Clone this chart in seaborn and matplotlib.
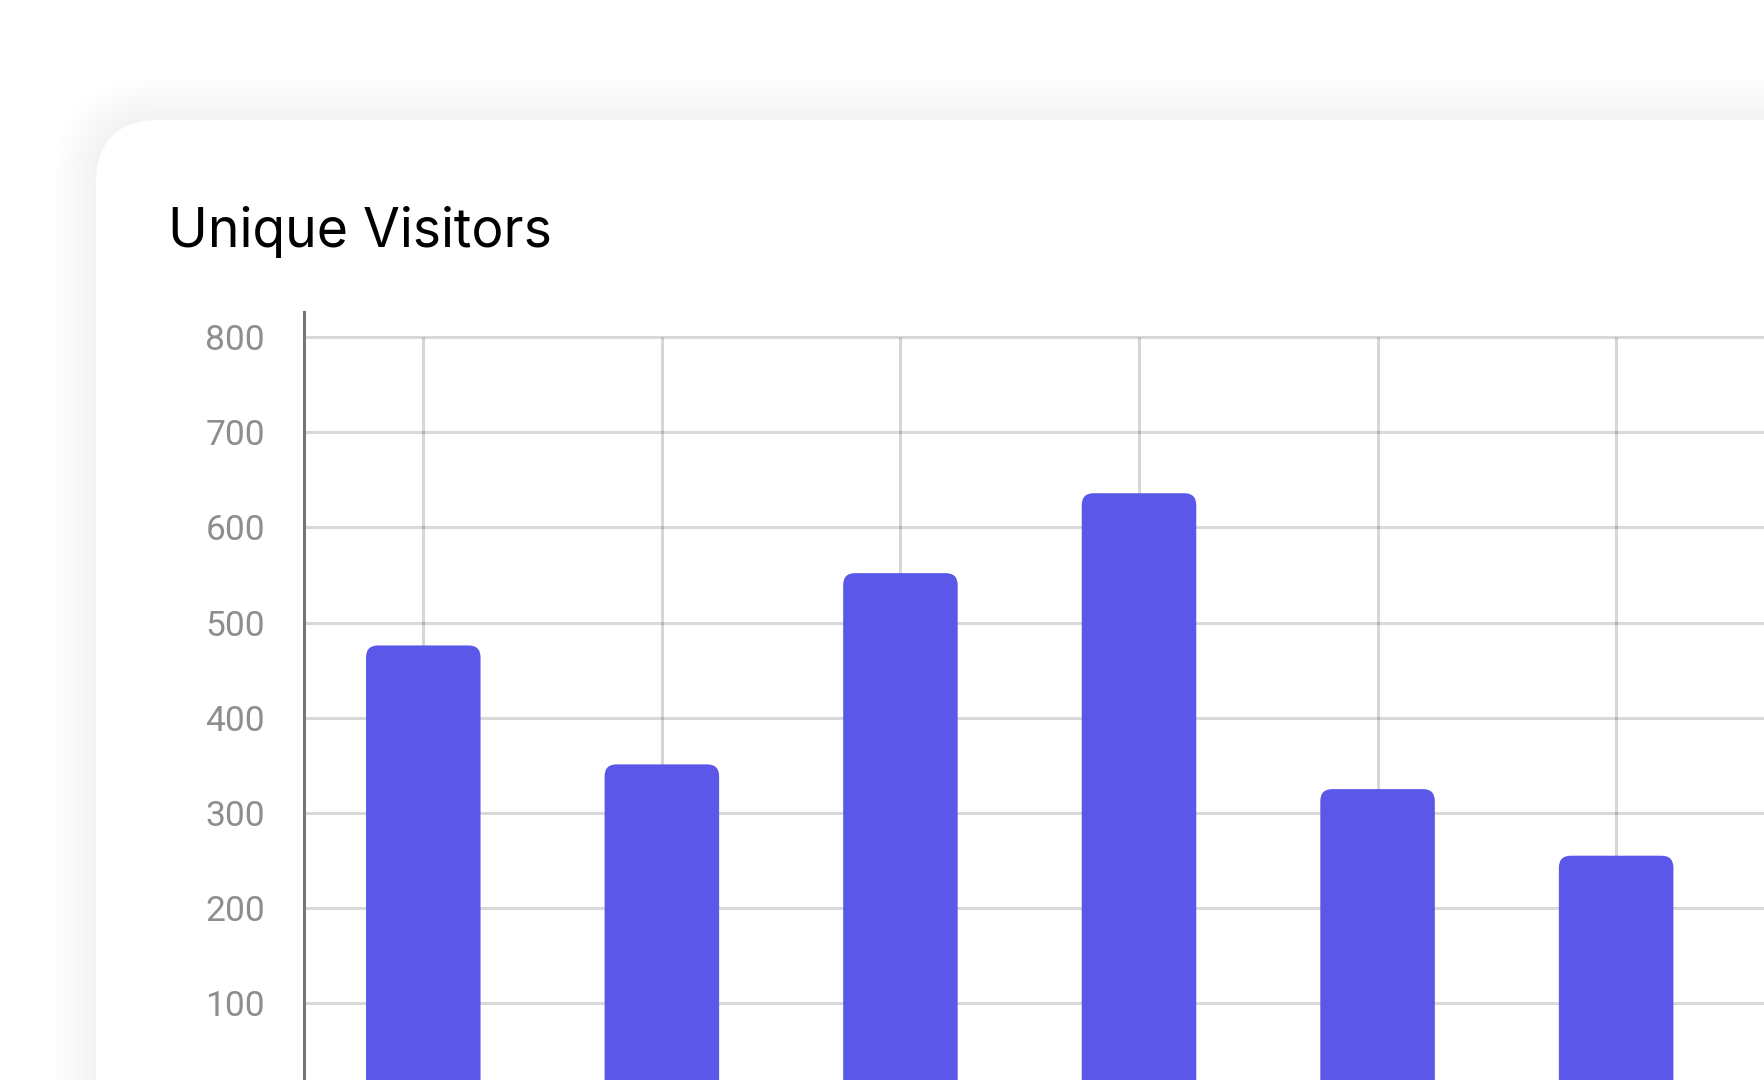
import numpy as np
import pandas as pd
import seaborn as sns
from matplotlib import pyplot as plt
from matplotlib.patches import FancyBboxPatch

# data
days = ["Mon", "Tue", "Wed", "Thu", "Fri", "Sat"]
visitors = [476, 351, 552, 636, 325, 255]
y_ticks = [100, 200, 300, 400, 500, 600, 700, 800]

bar_color = "#5b57e8"

sns.set_theme(style="white")
plt.rcParams["font.family"] = ["Roboto", "DejaVu Sans"]

fig = plt.figure(figsize=(17.64, 10.8), dpi=100)
fig.patch.set_facecolor("white")

# background axes in pixel units for the card + soft shadow
bg = fig.add_axes([0, 0, 1, 1], zorder=0)
bg.set_xlim(0, 1764)
bg.set_ylim(1080, 0)
bg.axis("off")
for k in range(12, 0, -1):
    grow = k * 3.6
    bg.add_patch(FancyBboxPatch((96 - grow, 120 - grow), 3000, 3000,
                                boxstyle=f"round,pad=0,rounding_size={64 + grow}",
                                facecolor="black", edgecolor="none", alpha=0.0022))
bg.add_patch(FancyBboxPatch((96, 120), 3000, 3000,
                            boxstyle="round,pad=0,rounding_size=64",
                            facecolor="white", edgecolor="none"))

# chart axes, cropped by the figure at bottom and right
ax = fig.add_axes([304 / 1764, -18.3 / 1080, 1670 / 1764, 786.3 / 1080], zorder=1)
ax.patch.set_alpha(0)

df = pd.DataFrame({"day": days, "visitors": visitors})
sns.barplot(data=df, x="day", y="visitors", color=bar_color, width=0.48,
            saturation=1, ax=ax, zorder=3)

ax.set_xlim(-0.5, 6.5)
ax.set_ylim(0, 826.5)

# rounded bar tops
aspect = (1670 / 7) / (786.3 / 826.5)
for p in list(ax.patches):
    x, w, h = p.get_x(), p.get_width(), p.get_height()
    p.remove()
    ax.add_patch(FancyBboxPatch((x, 0), w, h,
                                boxstyle="round,pad=0,rounding_size=0.05",
                                mutation_aspect=aspect,
                                facecolor=bar_color, edgecolor="none", zorder=3))

# grid
ax.set_yticks(y_ticks)
ax.yaxis.grid(True, color="black", alpha=0.15, linewidth=2.2, zorder=1)
ax.vlines(np.arange(len(days)), 0, max(y_ticks), color="black", alpha=0.16,
          linewidth=2.2, zorder=1)

for s in ["top", "right", "bottom"]:
    ax.spines[s].set_visible(False)
ax.spines["left"].set_color("#777777")
ax.spines["left"].set_linewidth(2.2)

ax.tick_params(axis="y", length=0, pad=28, labelsize=25.5, labelcolor="#8e8e8e")
ax.tick_params(axis="x", length=0, labelbottom=False)
ax.set_xlabel("")
ax.set_ylabel("")

fig.text(168 / 1764, (1080 - 246.5) / 1080, "Unique Visitors", fontsize=38.5,
         family=["Inter", "DejaVu Sans"], color="#000000", va="baseline", ha="left")

plt.savefig("out.png", dpi=100)
